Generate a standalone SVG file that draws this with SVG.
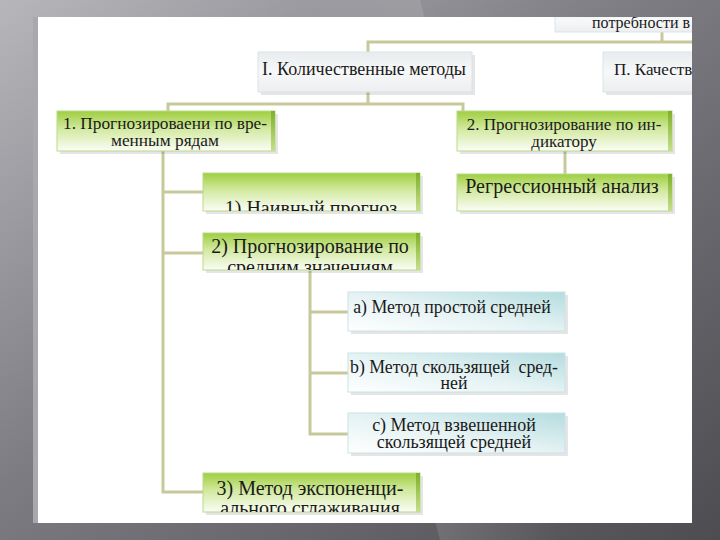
<svg xmlns="http://www.w3.org/2000/svg" width="720" height="540" viewBox="0 0 720 540">
<defs>
  <linearGradient id="bg" x1="0" y1="0" x2="1" y2="1">
    <stop offset="0" stop-color="#b6b6bb"/>
    <stop offset="0.45" stop-color="#7c7c82"/>
    <stop offset="1" stop-color="#4c4c51"/>
  </linearGradient>
  <linearGradient id="streak" x1="0" y1="0" x2="1" y2="0">
    <stop offset="0" stop-color="#ffffff" stop-opacity="0"/>
    <stop offset="0.5" stop-color="#ffffff" stop-opacity="0.12"/>
    <stop offset="1" stop-color="#ffffff" stop-opacity="0"/>
  </linearGradient>
  <linearGradient id="green" x1="0" y1="0" x2="0" y2="1">
    <stop offset="0" stop-color="#9fce40"/>
    <stop offset="0.45" stop-color="#d2e9a0"/>
    <stop offset="1" stop-color="#fbfdf6"/>
  </linearGradient>
  <linearGradient id="greenEdge" x1="0" y1="0" x2="0" y2="1">
    <stop offset="0" stop-color="#7fb02a"/>
    <stop offset="1" stop-color="#c5e08a"/>
  </linearGradient>
  <linearGradient id="blue" x1="0" y1="1" x2="1" y2="0">
    <stop offset="0" stop-color="#ffffff"/>
    <stop offset="0.5" stop-color="#e4f2f3"/>
    <stop offset="1" stop-color="#b4dcdf"/>
  </linearGradient>
  <linearGradient id="grey" x1="0" y1="0" x2="0" y2="1">
    <stop offset="0" stop-color="#e8ecee"/>
    <stop offset="0.5" stop-color="#f7f8f9"/>
    <stop offset="1" stop-color="#eceeef"/>
  </linearGradient>
  <clipPath id="panel"><rect x="38" y="17" width="654" height="506"/></clipPath>
  <clipPath id="c1"><rect x="203" y="173" width="217" height="38"/></clipPath>
  <clipPath id="c2"><rect x="203" y="233" width="217" height="37"/></clipPath>
  <clipPath id="c3"><rect x="203" y="473" width="217" height="39"/></clipPath>
</defs>
<style>
  .t { fill: #1a1a1a; text-anchor: middle; white-space: pre; }
  .shadow { fill: #000000; fill-opacity: 0.10; }
  .gbox { fill: url(#green); stroke: #b9d98a; stroke-width: 1; }
  .gedge { fill: url(#greenEdge); }
  .bbox { fill: url(#blue); stroke: #c9e3e5; stroke-width: 1; }
  .wbox { fill: url(#grey); stroke: #dde3e6; stroke-width: 1; }
  .conn { fill: none; stroke: #c7c99b; stroke-width: 3; stroke-linejoin: miter; }
</style>

<rect x="0" y="0" width="720" height="540" fill="url(#bg)"/>
<polygon points="300,0 420,0 560,540 440,540" fill="url(#streak)"/>
<rect x="33" y="17" width="6" height="506" fill="#a9a9ad"/>
<rect x="38" y="17" width="654" height="506" fill="#ffffff"/>

<g clip-path="url(#panel)" font-family="'Liberation Serif', 'DejaVu Serif', serif">
  <g id="connectors">
    <polyline class="conn" points="662,32 662,42"/>
    <polyline class="conn" points="692,42 368,42 368,52"/>
    <polyline class="conn" points="368,92 368,104"/>
    <polyline class="conn" points="168,111 168,104 463,104 463,111"/>
    <polyline class="conn" points="163,151 163,492 203,492"/>
    <polyline class="conn" points="163,192 203,192"/>
    <polyline class="conn" points="163,253 203,253"/>
    <polyline class="conn" points="310,271 310,434 348,434"/>
    <polyline class="conn" points="310,312 348,312"/>
    <polyline class="conn" points="310,373 348,373"/>
    <polyline class="conn" points="565,150 565,175"/>
  </g>

  <g id="node-top">
    <rect class="wbox" x="555" y="8" width="150" height="24"/>
    <text class="t" font-size="16" x="690" y="28" style="text-anchor:end">потребности в</text>
  </g>

  <g id="node-I">
    <rect class="shadow" x="261" y="55" width="214" height="40"/>
    <rect class="wbox" x="258" y="52" width="214" height="40"/>
    <text class="t" font-size="18" x="364" y="75">I. Количественные методы</text>
  </g>

  <g id="node-II">
    <rect class="shadow" x="606" y="55" width="100" height="40"/>
    <rect class="wbox" x="603" y="52" width="100" height="40"/>
    <text class="t" font-size="17" x="614" y="75" style="text-anchor:start">П. Качественные</text>
  </g>

  <g id="node-1">
    <rect class="shadow" x="60" y="114" width="218" height="40"/>
    <rect class="gbox" x="57" y="111" width="218" height="40"/>
    <rect class="gedge" x="271" y="111" width="4" height="40"/>
    <text class="t" font-size="17.3" x="165" y="129">1. Прогнозироваени по вре-</text>
    <text class="t" font-size="17.3" x="165" y="146">менным рядам</text>
  </g>

  <g id="node-2">
    <rect class="shadow" x="460" y="114" width="215" height="40"/>
    <rect class="gbox" x="457" y="111" width="215" height="40"/>
    <rect class="gedge" x="668" y="111" width="4" height="40"/>
    <text class="t" font-size="17" x="564" y="130">2. Прогнозирование по ин-</text>
    <text class="t" font-size="17" x="564" y="147">дикатору</text>
  </g>

  <g id="node-regr">
    <rect class="shadow" x="460" y="177" width="215" height="37"/>
    <rect class="gbox" x="457" y="174" width="215" height="37"/>
    <rect class="gedge" x="668" y="174" width="4" height="37"/>
    <text class="t" font-size="20" x="562" y="193">Регрессионный анализ</text>
  </g>

  <g id="node-1a">
    <rect class="shadow" x="206" y="176" width="217" height="38"/>
    <rect class="gbox" x="203" y="173" width="217" height="38"/>
    <rect class="gedge" x="416" y="173" width="4" height="38"/>
    <text class="t" font-size="20" x="311" y="215" clip-path="url(#c1)">1) Наивный прогноз</text>
  </g>

  <g id="node-2a">
    <rect class="shadow" x="206" y="236" width="217" height="37"/>
    <rect class="gbox" x="203" y="233" width="217" height="37"/>
    <rect class="gedge" x="416" y="233" width="4" height="37"/>
    <text class="t" font-size="20" x="310" y="253">2) Прогнозирование по</text>
    <text class="t" font-size="20" x="310" y="274" clip-path="url(#c2)">средним значениям</text>
  </g>

  <g id="node-a">
    <rect class="shadow" x="351" y="295" width="217" height="39"/>
    <rect class="bbox" x="348" y="292" width="217" height="39"/>
    <text class="t" font-size="17.8" x="452" y="313">a) Метод простой средней</text>
  </g>

  <g id="node-b">
    <rect class="shadow" x="351" y="356" width="217" height="39"/>
    <rect class="bbox" x="348" y="353" width="217" height="39"/>
    <text class="t" font-size="17.8" x="454" y="373">b) Метод скользящей  сред-</text>
    <text class="t" font-size="17.8" x="454" y="389">ней</text>
  </g>

  <g id="node-c">
    <rect class="shadow" x="351" y="416" width="217" height="40"/>
    <rect class="bbox" x="348" y="413" width="217" height="40"/>
    <text class="t" font-size="18" x="454" y="431">c) Метод взвешенной</text>
    <text class="t" font-size="18" x="454" y="448">скользящей средней</text>
  </g>

  <g id="node-3">
    <rect class="shadow" x="206" y="476" width="217" height="39"/>
    <rect class="gbox" x="203" y="473" width="217" height="39"/>
    <rect class="gedge" x="416" y="473" width="4" height="39"/>
    <text class="t" font-size="20" x="310" y="495">3) Метод экспоненци-</text>
    <text class="t" font-size="20" x="310" y="515" clip-path="url(#c3)">ального сглаживания</text>
  </g>
</g>
</svg>
